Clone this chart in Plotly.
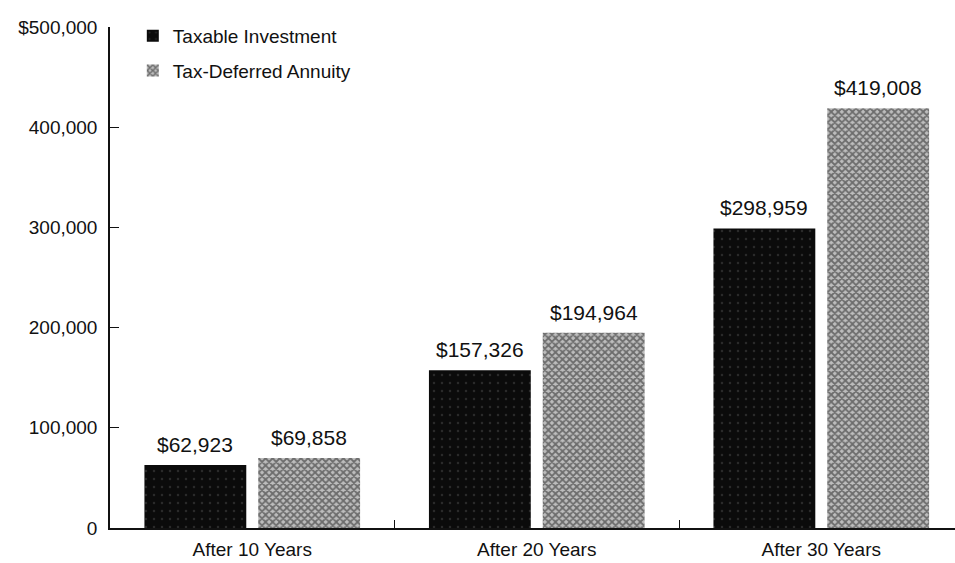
import plotly.graph_objects as go

categories = ["After 10 Years", "After 20 Years", "After 30 Years"]
taxable = [62923, 157326, 298959]
deferred = [69858, 194964, 419008]
series_names = ["Taxable Investment", "Tax-Deferred Annuity"]
y_tick_vals = [0, 100000, 200000, 300000, 400000, 500000]
y_tick_text = ["0", "100,000", "200,000", "300,000", "400,000", "$500,000"]

FONT = "Liberation Sans, Arial, sans-serif"

fig = go.Figure()
fig.add_trace(go.Bar(
    x=categories, y=taxable, name=series_names[0],
    marker=dict(color="#0b0b0b", line=dict(width=0),
                pattern=dict(shape=".", fgcolor="#4a4a4a", size=8, solidity=0.07)),
    legendgroup="a",
))
fig.add_trace(go.Bar(
    x=categories, y=deferred, name=series_names[1],
    marker=dict(color="#9a9a9a", line=dict(width=0),
                pattern=dict(shape="x", fgcolor="#1c1c1c", bgcolor="#bdbdbd", size=5, solidity=0.6)),
    legendgroup="b",
))

# value labels above each bar, offset to the left/right bar of each group
for values, shift in ((taxable, -57), (deferred, 57)):
    for cat, v in zip(categories, values):
        fig.add_annotation(
            x=cat, y=v, text=f"${v:,}", showarrow=False,
            xshift=shift, yshift=7, yanchor="bottom", xanchor="center",
            font=dict(size=21, color="#111", family=FONT),
        )

fig.update_layout(
    width=955, height=563,
    margin=dict(l=110, r=0, t=27, b=35),
    paper_bgcolor="white", plot_bgcolor="white",
    font=dict(family=FONT, size=19, color="#111"),
    barmode="group", bargap=0.2, bargroupgap=0.105,
    showlegend=True,
    legend=dict(x=0.027, y=1.02, xanchor="left", yanchor="top",
                bgcolor="rgba(0,0,0,0)", font=dict(size=19, family=FONT),
                traceorder="grouped", tracegroupgap=7, itemwidth=30),
)
fig.update_xaxes(
    range=[-0.5, 2.47], showline=True, linecolor="#111", linewidth=1.5,
    ticks="inside", tickson="boundaries", ticklen=8, tickcolor="#111",
    ticklabelstandoff=3,
    showgrid=False, zeroline=False, tickfont=dict(size=19, family=FONT),
)
fig.update_yaxes(
    range=[0, 500000], tickvals=y_tick_vals, ticktext=y_tick_text,
    showline=True, linecolor="#111", linewidth=1.5,
    ticks="inside", ticklen=9, tickcolor="#111", ticklabelstandoff=7,
    showgrid=False, zeroline=False, tickfont=dict(size=19, family=FONT),
)

fig.write_html("out.html")
